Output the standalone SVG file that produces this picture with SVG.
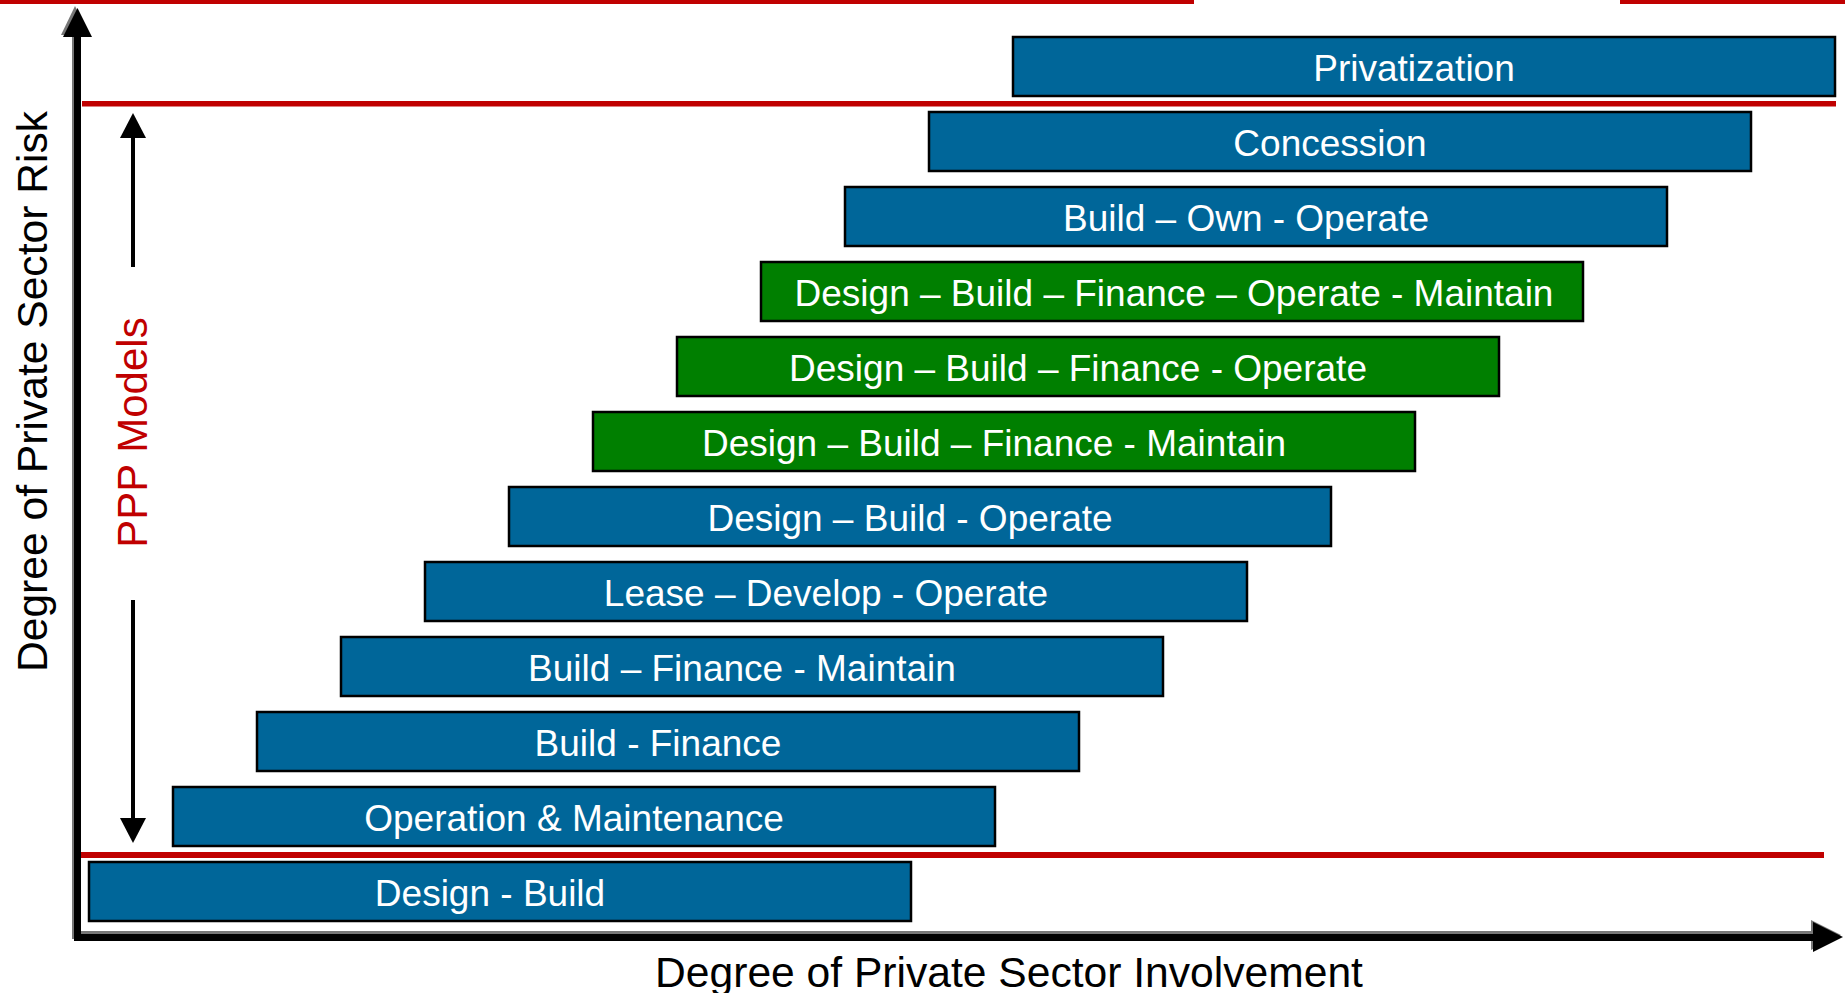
<svg xmlns="http://www.w3.org/2000/svg" width="1845" height="993" viewBox="0 0 1845 993">
<style>
.box{stroke:#000;stroke-width:2.5}
.blue{fill:#006699}
.green{fill:#007F00}
.lbl{font-family:"Liberation Sans",Arial,sans-serif;font-size:37px;fill:#fff;text-anchor:middle}
.axt{font-family:"Liberation Sans",Arial,sans-serif;font-size:42.6px;fill:#000;text-anchor:middle}
.ppp{font-family:"Liberation Sans",Arial,sans-serif;font-size:42px;fill:#C00000;text-anchor:middle}
.red{fill:#C00000}
</style>
<defs>
<marker id="thinHead" markerUnits="userSpaceOnUse" markerWidth="26" markerHeight="26" viewBox="0 0 26 26" refX="1" refY="13" orient="auto">
<path d="M0,0 L25,13 L0,26 Z" fill="#000"/>
</marker>
</defs>
<rect width="1845" height="993" fill="#fff"/>

<!-- red separator lines -->
<rect class="red" x="0" y="-1" width="1194" height="5"/>
<rect class="red" x="1620" y="-1" width="225" height="5"/>
<rect class="red" x="82" y="101" width="1754" height="5.5"/>
<rect class="red" x="81" y="852" width="1743" height="6"/>

<g id="node-design-build"><rect class="box blue" x="89" y="862" width="822" height="59"/><text class="lbl" x="490" y="906">Design - Build</text></g>
<g id="node-om"><rect class="box blue" x="173" y="787" width="822" height="59"/><text class="lbl" x="574" y="831">Operation &amp; Maintenance</text></g>
<g id="node-bf"><rect class="box blue" x="257" y="712" width="822" height="59"/><text class="lbl" x="658" y="756">Build - Finance</text></g>
<g id="node-bfm"><rect class="box blue" x="341" y="637" width="822" height="59"/><text class="lbl" x="742" y="681">Build – Finance - Maintain</text></g>
<g id="node-ldo"><rect class="box blue" x="425" y="562" width="822" height="59"/><text class="lbl" x="826" y="606">Lease – Develop - Operate</text></g>
<g id="node-dbo"><rect class="box blue" x="509" y="487" width="822" height="59"/><text class="lbl" x="910" y="531">Design – Build - Operate</text></g>
<g id="node-dbfm"><rect class="box green" x="593" y="412" width="822" height="59"/><text class="lbl" x="994" y="456">Design – Build – Finance - Maintain</text></g>
<g id="node-dbfo"><rect class="box green" x="677" y="337" width="822" height="59"/><text class="lbl" x="1078" y="381">Design – Build – Finance - Operate</text></g>
<g id="node-dbfom"><rect class="box green" x="761" y="262" width="822" height="59"/><text class="lbl" x="1174" y="306">Design – Build – Finance – Operate - Maintain</text></g>
<g id="node-boo"><rect class="box blue" x="845" y="187" width="822" height="59"/><text class="lbl" x="1246" y="231">Build – Own - Operate</text></g>
<g id="node-concession"><rect class="box blue" x="929" y="112" width="822" height="59"/><text class="lbl" x="1330" y="156">Concession</text></g>
<g id="node-privatization"><rect class="box blue" x="1013" y="37" width="822" height="59"/><text class="lbl" x="1414" y="81">Privatization</text></g>

<g id="connectors">
<!-- axes shadows -->
<line x1="75" y1="34" x2="75" y2="939" stroke="#777" stroke-width="6"/>
<line x1="74" y1="934.5" x2="1811" y2="934.5" stroke="#777" stroke-width="7"/>
<polygon points="61,35 75,6 90,35" fill="#777"/>
<polygon points="1811,920 1841,935 1811,950" fill="#777"/>
<!-- axes -->
<line x1="77.5" y1="34" x2="77.5" y2="941" stroke="#000" stroke-width="7"/>
<line x1="74" y1="937.5" x2="1815" y2="937.5" stroke="#000" stroke-width="7"/>
<polygon points="63,37 77.5,8 92,37" fill="#000"/>
<polygon points="1813,922 1843,937 1813,952" fill="#000"/>
<!-- PPP range arrows -->
<line x1="133" y1="267" x2="133" y2="137" stroke="#000" stroke-width="4" marker-end="url(#thinHead)"/>
<line x1="133" y1="600" x2="133" y2="819" stroke="#000" stroke-width="4" marker-end="url(#thinHead)"/>
</g>

<text class="axt" transform="translate(47,391.5) rotate(-90)">Degree of Private Sector Risk</text>
<text class="axt" x="1009" y="987">Degree of Private Sector Involvement</text>
<text class="ppp" transform="translate(146.5,432.5) rotate(-90)">PPP Models</text>
</svg>
